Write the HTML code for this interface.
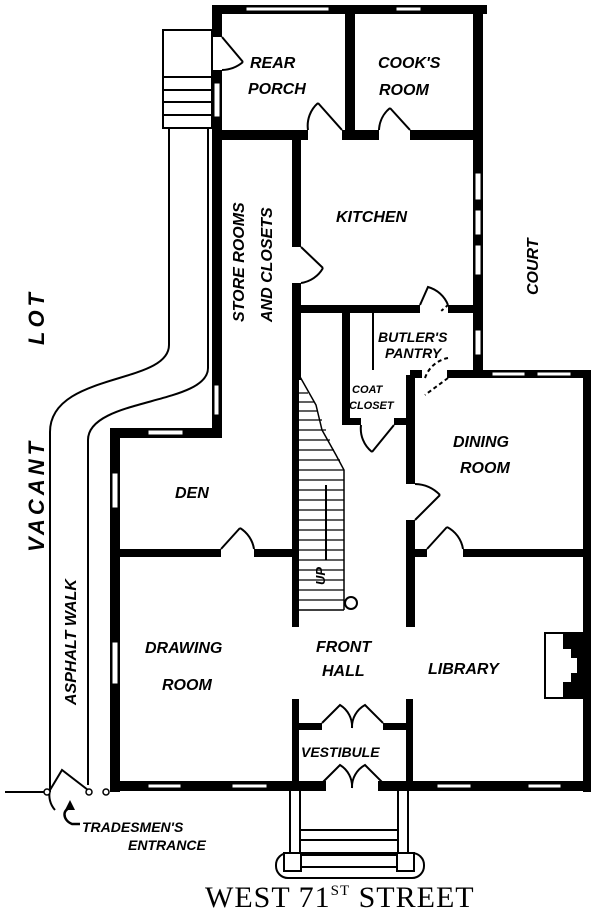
<!DOCTYPE html>
<html><head><meta charset="utf-8"><style>
html,body{margin:0;padding:0;background:#fff;}
svg{display:block}
text{font-family:"Liberation Sans",sans-serif;font-style:italic;font-weight:bold;fill:#000;}
</style></head><body>
<svg width="600" height="913" viewBox="0 0 600 913" xmlns="http://www.w3.org/2000/svg">
<g fill="#000">
<rect x="212" y="5" width="275" height="9"/>
<rect x="212" y="5" width="10" height="32"/>
<rect x="212" y="70" width="10" height="368"/>
<rect x="345" y="5" width="10" height="135"/>
<rect x="222" y="130" width="86" height="10"/>
<rect x="342" y="130" width="37" height="10"/>
<rect x="410" y="130" width="70" height="10"/>
<rect x="473" y="5" width="10" height="373"/>
<rect x="292" y="140" width="9" height="107"/>
<rect x="292" y="283" width="9" height="97"/>
<rect x="300" y="305" width="120" height="8"/>
<rect x="448" y="305" width="28" height="8"/>
<rect x="342" y="313" width="8" height="65"/>
<rect x="372" y="313" width="2" height="57"/>
<rect x="410" y="370" width="12" height="8"/>
<rect x="447" y="370" width="143" height="8"/>
<rect x="583" y="370" width="8" height="422"/>
<rect x="110" y="428" width="111" height="10"/>
<rect x="110" y="428" width="10" height="364"/>
<rect x="110" y="781" width="216" height="10"/>
<rect x="378" y="781" width="213" height="10"/>
<rect x="292" y="370" width="7" height="257"/>
<rect x="292" y="699" width="7" height="90"/>
<rect x="406" y="699" width="7" height="90"/>
<rect x="342" y="375" width="8" height="50"/>
<rect x="350" y="418" width="11" height="7"/>
<rect x="394" y="418" width="14" height="7"/>
<rect x="406" y="375" width="9" height="109"/>
<rect x="406" y="520" width="9" height="107"/>
<rect x="120" y="549" width="101" height="8"/>
<rect x="254" y="549" width="40" height="8"/>
<rect x="415" y="549" width="12" height="8"/>
<rect x="463" y="549" width="122" height="8"/>
<rect x="299" y="723" width="23" height="7"/>
<rect x="383" y="723" width="23" height="7"/>
</g>
<g fill="#fff" stroke="#000" stroke-width="1">
<rect x="246" y="7" width="83" height="4"/>
<rect x="396" y="7" width="25" height="4"/>
<rect x="214" y="83" width="6" height="34"/>
<rect x="475" y="173" width="6" height="27"/>
<rect x="475" y="210" width="6" height="25"/>
<rect x="475" y="245" width="6" height="30"/>
<rect x="475" y="330" width="6" height="25"/>
<rect x="492" y="372" width="33" height="4"/>
<rect x="537" y="372" width="34" height="4"/>
<rect x="148" y="430" width="35" height="5"/>
<rect x="112" y="473" width="6" height="35"/>
<rect x="112" y="642" width="6" height="42"/>
<rect x="148" y="784" width="33" height="4"/>
<rect x="232" y="784" width="35" height="4"/>
<rect x="437" y="784" width="34" height="4"/>
<rect x="528" y="784" width="33" height="4"/>
<rect x="214" y="385" width="5" height="30"/>
</g>
<g fill="none" stroke="#000" stroke-width="2">
<path d="M222,37 L243,62 M243,62 A34,34 0 0 1 222,70"/>
<path d="M342,130 L318,103 M318,103 A30,30 0 0 0 308,130"/>
<path d="M410,130 L390,108 M390,108 A30,30 0 0 0 379,130"/>
<path d="M301,247 L323,268 M323,268 A30,30 0 0 1 301,283"/>
<path d="M420,305 L428,287 A30,30 0 0 1 448,305"/>
<path d="M448,305 L440,312" stroke-dasharray="3,3"/>
<path d="M448,378 L425,395 M425,378 A30,30 0 0 1 448,358" stroke-dasharray="4,3"/>
<path d="M394,425 L372,452 M361,425 A30,30 0 0 0 372,452"/>
<path d="M415,520 L440,495 M440,495 A36,36 0 0 0 415,484"/>
<path d="M221,549 L240,528 M240,528 A30,30 0 0 1 254,549"/>
<path d="M427,549 L447,527 M447,527 A30,30 0 0 1 463,549"/>
<path d="M322,723 L340,705 A25,25 0 0 1 352,728 M383,723 L365,705 A25,25 0 0 0 352,728"/>
<path d="M322,783 L340,765 A25,25 0 0 1 352,788 M383,783 L365,765 A25,25 0 0 0 352,788"/>
<rect x="163" y="30" width="49" height="98"/>
<path d="M163,77 H212 M163,90 H212 M163,102 H212 M163,115 H212"/>
<path d="M169,128 L169,345 C169,385 50,372 50,432 L50,792"/>
<path d="M208,128 L208,368 C208,405 88,398 88,440 L88,785"/>
<path d="M5,792 H47"/>
<path d="M50,790 L62,770 L88,790"/>
<path d="M50,790 A22,22 0 0 0 55,810"/>
<path d="M72,808 C62,808 62,820 72,824 H80" stroke-width="2.5"/>
<rect x="545" y="633" width="40" height="65"/>
<path d="M290,790 V870 M300,790 V870 M398,790 V870 M408,790 V870 M300,830 H398 M300,840 H398 M300,855 H398 M300,867 H398"/>
<rect x="276" y="853" width="148" height="25" rx="12"/>
<circle cx="351" cy="603" r="6"/>
<path d="M326,485 V560"/>
</g>
<g fill="#000">
<path d="M563,633 H585 V698 H563 V682 H571 V673 H577 V658 H571 V649 H563 Z"/>
<rect x="284" y="853" width="17" height="18" fill="#fff" stroke="#000" stroke-width="2"/>
<rect x="397" y="853" width="17" height="18" fill="#fff" stroke="#000" stroke-width="2"/>
<circle cx="47" cy="792" r="3" fill="#fff" stroke="#000" stroke-width="1.5"/>
<circle cx="89" cy="792" r="3" fill="#fff" stroke="#000" stroke-width="1.5"/>
<circle cx="106" cy="792" r="3" fill="#fff" stroke="#000" stroke-width="1.5"/>
<path d="M70,800 L65,810 L75,810 Z"/>
</g>
<g stroke="#000" stroke-width="1.3">
<path d="M299,393 H308 M299,402 H314 M299,411 H318 M299,420 H322 M299,430 H326 M299,440 H330 M299,450 H334 M299,460 H340 M299,470 H344 M299,480 H344 M299,490 H344 M299,500 H344 M299,510 H344 M299,520 H344 M299,530 H344 M299,540 H344 M299,550 H344 M299,560 H344 M299,570 H344 M299,580 H344 M299,590 H344 M299,600 H344"/>
<path d="M299,375 L316,405 L322,430 L336,455 L344,470 V610 M299,610 H344" fill="none" stroke-width="1.5"/>
</g>
<g font-size="16">
<text x="250" y="68">REAR</text>
<text x="248" y="94">PORCH</text>
<text x="378" y="68">COOK'S</text>
<text x="379" y="95">ROOM</text>
<text x="336" y="222">KITCHEN</text>
<text x="378" y="342" font-size="14">BUTLER'S</text>
<text x="385" y="358" font-size="14">PANTRY</text>
<text x="352" y="393" font-size="11">COAT</text>
<text x="349" y="409" font-size="11">CLOSET</text>
<text x="453" y="447">DINING</text>
<text x="460" y="473">ROOM</text>
<text x="175" y="498">DEN</text>
<text x="145" y="653">DRAWING</text>
<text x="162" y="690">ROOM</text>
<text x="316" y="652">FRONT</text>
<text x="322" y="676">HALL</text>
<text x="428" y="674">LIBRARY</text>
<text x="301" y="757" font-size="14">VESTIBULE</text>
<text x="82" y="832" font-size="14">TRADESMEN'S</text>
<text x="128" y="850" font-size="14">ENTRANCE</text>
<text transform="translate(244,322) rotate(-90)">STORE ROOMS</text>
<text transform="translate(272,322) rotate(-90)">AND CLOSETS</text>
<text transform="translate(538,295) rotate(-90)">COURT</text>
<text transform="translate(44,552) rotate(-90)" font-size="22" letter-spacing="4">VACANT</text>
<text transform="translate(44,345) rotate(-90)" font-size="22" letter-spacing="4">LOT</text>
<text transform="translate(76,705) rotate(-90)">ASPHALT WALK</text>
<text transform="translate(325,585) rotate(-90)" font-size="13">UP</text>
</g>
<text x="205" y="907" font-size="30" style="font-family:'Liberation Serif',serif;font-style:normal;font-weight:normal" letter-spacing="1">WEST 71<tspan font-size="15" dy="-12">ST</tspan><tspan dy="12"> STREET</tspan></text>
</svg>
</body></html>
